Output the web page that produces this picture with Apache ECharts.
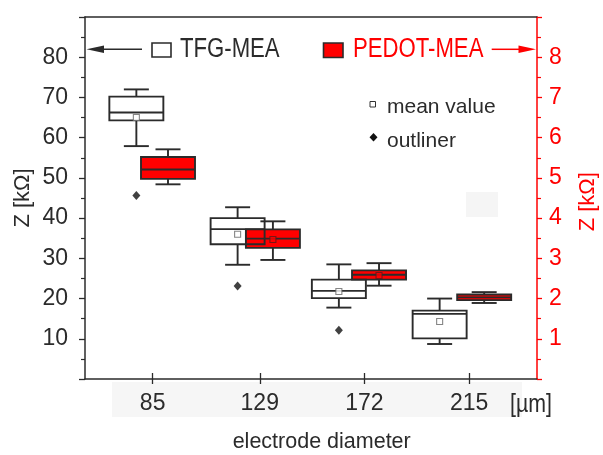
<!DOCTYPE html>
<html>
<head>
<meta charset="utf-8">
<script src="https://cdn.jsdelivr.net/npm/echarts@6/dist/echarts.min.js"></script>
<style>
  html, body { margin: 0; padding: 0; background: #fff; }
  #chart { width: 603px; height: 455px; }
</style>
</head>
<body>
<div id="chart"></div>
<script>
// Electrode diameters (µm) and where each group's boxes sit on the µm scale
const diameters = [85, 129, 172, 215];
const tfgX = [78.3, 119.9, 161.5, 202.9];
const pedotX = [91.3, 134.4, 178.0, 221.2];

// TFG-MEA impedance, kΩ (left axis): [min, Q1, median, Q3, max]
const tfgBox = [
  [57.9, 64.3, 66.25, 70.2, 72.0],
  [28.4, 33.5, 37.25, 40.0, 42.7],
  [17.75, 20.1, 21.9, 24.7, 28.5],
  [8.7, 10.1, 16.2, 17.0, 20.0]
];
const tfgMean = [65.0, 36.0, 21.75, 14.3];
const tfgOutlier = [45.6, 23.1, 12.1, null];

// PEDOT-MEA impedance, kΩ (right axis): [min, Q1, median, Q3, max]
const pedotBox = [
  [4.84, 4.975, 5.21, 5.52, 5.71],
  [2.96, 3.26, 3.49, 3.72, 3.92],
  [2.32, 2.47, 2.59, 2.70, 2.88],
  [1.89, 1.96, 2.03, 2.10, 2.16]
];
const pedotMean = [null, 3.47, 2.575, null];

// Tick labels
const leftTickLabels = [10, 20, 30, 40, 50, 60, 70, 80];
const rightTickLabels = [1, 2, 3, 4, 5, 6, 7, 8];

const INK = '#2b2b2b';
const RED = '#ff0000';
const FONT = '"Liberation Sans", Arial, sans-serif';
const NARROW = 0.82; // horizontal squeeze for the condensed captions

function boxRenderer(fill) {
  return function (params, api) {
    const x = api.value(0);
    const lo = api.coord([x, api.value(1)]);
    const q1 = api.coord([x, api.value(2)]);
    const md = api.coord([x, api.value(3)]);
    const q3 = api.coord([x, api.value(4)]);
    const hi = api.coord([x, api.value(5)]);
    const cx = lo[0];
    const hw = 27, cw = 12.5;
    const ls = { stroke: INK, lineWidth: 1.9, fill: null };
    return {
      type: 'group',
      children: [
        { type: 'line', shape: { x1: cx, y1: hi[1], x2: cx, y2: q3[1] }, style: ls },
        { type: 'line', shape: { x1: cx, y1: q1[1], x2: cx, y2: lo[1] }, style: ls },
        { type: 'line', shape: { x1: cx - cw, y1: hi[1], x2: cx + cw, y2: hi[1] }, style: ls },
        { type: 'line', shape: { x1: cx - cw, y1: lo[1], x2: cx + cw, y2: lo[1] }, style: ls },
        { type: 'rect', shape: { x: cx - hw, y: q3[1], width: 2 * hw, height: q1[1] - q3[1] },
          style: { stroke: INK, lineWidth: 1.9, fill: fill } },
        { type: 'line', shape: { x1: cx - hw, y1: md[1], x2: cx + hw, y2: md[1] }, style: ls }
      ]
    };
  };
}

const tfgData = tfgBox.map((b, i) => [tfgX[i]].concat(b));
const pedotData = pedotBox.map((b, i) => [pedotX[i]].concat(b));
const tfgMeanData = tfgMean.map((v, i) => [tfgX[i], v]).filter(d => d[1] != null);
const pedotMeanData = pedotMean.map((v, i) => [pedotX[i], v]).filter(d => d[1] != null);
const tfgOutData = tfgOutlier.map((v, i) => [tfgX[i], v]).filter(d => d[1] != null);

const chart = echarts.init(document.getElementById('chart'), null, { renderer: 'canvas' });

chart.setOption({
  animation: false,
  backgroundColor: '#fff',
  grid: { left: 85, right: 66, top: 17, bottom: 76, containLabel: false, outerBoundsMode: 'none' },
  xAxis: [
    {
      type: 'value', min: 57.2, max: 242.9, position: 'bottom',
      axisLine: { show: true, lineStyle: { color: INK, width: 1.5 } },
      axisTick: { show: true, inside: false, length: 5, customValues: diameters, lineStyle: { color: INK, width: 1.3 } },
      axisLabel: { customValues: diameters, margin: 13, color: INK, fontSize: 23, fontFamily: FONT },
      splitLine: { show: false }
    },
    {
      type: 'value', min: 57.2, max: 242.9, position: 'bottom',
      axisLine: { show: false },
      axisTick: { show: true, inside: true, length: 6, customValues: diameters, lineStyle: { color: INK, width: 1.3 } },
      axisLabel: { show: false },
      splitLine: { show: false }
    },
    {
      type: 'value', min: 57.2, max: 242.9, position: 'top',
      axisLine: { show: true, lineStyle: { color: INK, width: 1.5 } },
      axisTick: { show: false }, axisLabel: { show: false }, splitLine: { show: false }
    }
  ],
  yAxis: [
    {
      type: 'value', min: 0, max: 90, interval: 10, position: 'left',
      axisLine: { show: true, lineStyle: { color: INK, width: 1.5 } },
      axisTick: { show: true, length: 6, lineStyle: { color: INK, width: 1.3 } },
      minorTick: { show: true, splitNumber: 2, length: 4, lineStyle: { color: INK, width: 1.2 } },
      axisLabel: { customValues: leftTickLabels, margin: 17, color: INK, fontSize: 23, fontFamily: FONT },
      splitLine: { show: false }
    },
    {
      type: 'value', min: 0, max: 9, interval: 1, position: 'right',
      axisLine: { show: true, lineStyle: { color: RED, width: 1.5 } },
      axisTick: { show: true, length: 5, lineStyle: { color: RED, width: 1.3 } },
      minorTick: { show: true, splitNumber: 2, length: 4, lineStyle: { color: RED, width: 1.2 } },
      axisLabel: { customValues: rightTickLabels, margin: 12, color: RED, fontSize: 23, fontFamily: FONT },
      splitLine: { show: false }
    }
  ],
  series: [
    {
      name: 'PEDOT-MEA', type: 'custom', xAxisIndex: 0, yAxisIndex: 1, z: 2,
      renderItem: boxRenderer(RED), data: pedotData
    },
    {
      name: 'TFG-MEA', type: 'custom', xAxisIndex: 0, yAxisIndex: 0, z: 3,
      renderItem: boxRenderer(null), data: tfgData
    },
    {
      name: 'TFG mean', type: 'scatter', xAxisIndex: 0, yAxisIndex: 0, z: 4,
      symbol: 'rect', symbolSize: 6, data: tfgMeanData,
      itemStyle: { color: '#fff', borderColor: '#666', borderWidth: 1.1 }
    },
    {
      name: 'PEDOT mean', type: 'scatter', xAxisIndex: 0, yAxisIndex: 1, z: 4,
      symbol: 'rect', symbolSize: 6, data: pedotMeanData,
      itemStyle: { color: RED, borderColor: '#5a1a1a', borderWidth: 1.1 }
    },
    {
      name: 'outliner', type: 'scatter', xAxisIndex: 0, yAxisIndex: 0, z: 4,
      symbol: 'diamond', symbolSize: [8, 9], data: tfgOutData,
      itemStyle: { color: '#111' }
    }
  ],
  graphic: [
    // faint band behind the tick labels and a faint patch in the plot
    { type: 'rect', z: -10, silent: true, shape: { x: 112, y: 382, width: 410, height: 35 }, style: { fill: '#f6f6f6' } },
    { type: 'rect', z: -10, silent: true, shape: { x: 466, y: 192, width: 32, height: 25 }, style: { fill: '#f5f5f5' } },

    // left legend: arrow, open box, label
    { type: 'line', shape: { x1: 100, y1: 49.3, x2: 142, y2: 49.3 }, style: { stroke: INK, lineWidth: 1.5 } },
    { type: 'polygon', shape: { points: [[86.5, 49.3], [104, 45.6], [104, 53]] }, style: { fill: INK } },
    { type: 'rect', shape: { x: 152, y: 43, width: 19, height: 14 }, style: { fill: '#fff', stroke: INK, lineWidth: 1.6 } },
    { type: 'text', x: 180, y: 50, scaleX: NARROW,
      style: { text: 'TFG-MEA', fill: INK, font: '27px ' + FONT, verticalAlign: 'middle', align: 'left' } },

    // right legend: red box, label, arrow
    { type: 'rect', shape: { x: 323.5, y: 43, width: 19.5, height: 14.5 }, style: { fill: RED, stroke: INK, lineWidth: 1.6 } },
    { type: 'text', x: 353, y: 50, scaleX: NARROW,
      style: { text: 'PEDOT-MEA', fill: RED, font: '27px ' + FONT, verticalAlign: 'middle', align: 'left' } },
    { type: 'line', shape: { x1: 491.7, y1: 49.3, x2: 522, y2: 49.3 }, style: { stroke: RED, lineWidth: 1.5 } },
    { type: 'polygon', shape: { points: [[536, 49.3], [518.5, 45.6], [518.5, 53]] }, style: { fill: RED } },

    // symbol key
    { type: 'rect', shape: { x: 370, y: 101.5, width: 5.5, height: 5.5 }, style: { fill: '#fff', stroke: '#333', lineWidth: 1 } },
    { type: 'text', x: 387, y: 107.5, style: { text: 'mean value', fill: INK, font: '21px ' + FONT, verticalAlign: 'middle' } },
    { type: 'polygon', shape: { points: [[373.5, 133], [377.5, 137.3], [373.5, 141.6], [369.5, 137.3]] }, style: { fill: '#111' } },
    { type: 'text', x: 387, y: 141, style: { text: 'outliner', fill: INK, font: '21px ' + FONT, verticalAlign: 'middle' } },

    // axis titles
    { type: 'text', x: 23, y: 198, rotation: Math.PI / 2,
      style: { text: 'Z [kΩ]', fill: INK, font: '22px ' + FONT, align: 'center', verticalAlign: 'middle' } },
    { type: 'text', x: 588, y: 201.7, rotation: Math.PI / 2,
      style: { text: 'Z [kΩ]', fill: RED, font: '22px ' + FONT, align: 'center', verticalAlign: 'middle' } },
    { type: 'text', x: 321.7, y: 442, style: { text: 'electrode diameter', fill: INK, font: '21.5px ' + FONT, align: 'center', verticalAlign: 'middle' } },
    { type: 'text', x: 510, y: 405, scaleX: NARROW,
      style: { text: '[µm]', fill: INK, font: '26px ' + FONT, align: 'left', verticalAlign: 'middle' } }
  ]
});
</script>
</body>
</html>
